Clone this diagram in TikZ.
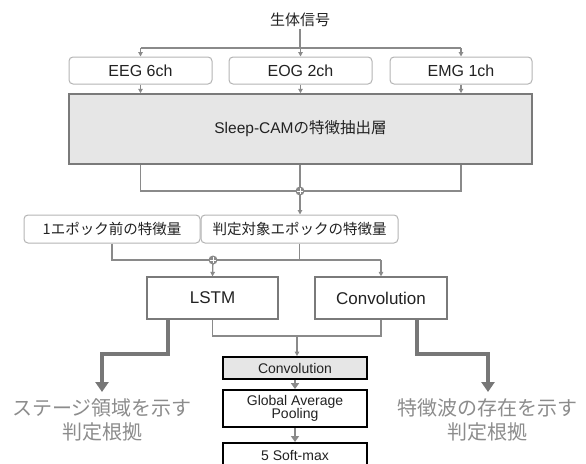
\documentclass[tikz,border=0pt]{standalone}
\usepackage{fontspec}
\setmainfont{Liberation Sans}
\newfontfamily\jp{Noto Sans CJK JP}
\usetikzlibrary{arrows.meta}
\definecolor{lin}{HTML}{8A8A8A}
\definecolor{lbord}{HTML}{B4B4B4}
\definecolor{bfill}{HTML}{E6E6E6}
\definecolor{midb}{HTML}{7A7A7A}
\definecolor{thk}{HTML}{777777}
\definecolor{labc}{HTML}{8C8C8C}
\definecolor{txt}{HTML}{222222}
\tikzset{
  conn/.style={draw=lin, line width=1.3pt},
  arr/.style={conn, -{Triangle[length=4.5pt,width=4.5pt]}},
  sigbox/.style={draw=lbord, line width=1pt, rounded corners=4pt, fill=white, text=txt,
    minimum height=27pt, inner sep=0pt, font=\fontsize{16}{19}\selectfont},
  featbox/.style={draw=lbord, line width=1pt, rounded corners=4pt, fill=white, text=txt,
    minimum height=28pt, inner sep=0pt, font=\jp\fontsize{14.5}{17}\selectfont},
  bigbox/.style={draw=midb, line width=1.5pt, fill=bfill, text=txt, inner sep=0pt,
    minimum width=463pt, minimum height=70pt, font=\fontsize{15.5}{18}\selectfont},
  netbox/.style={draw=midb, line width=1.2pt, fill=white, text=txt, inner sep=0pt,
    minimum width=131pt, minimum height=42pt, font=\fontsize{17}{20}\selectfont},
  headbox/.style={draw=black, line width=1.8pt, text=txt, inner sep=0pt,
    minimum width=144pt, font=\fontsize{14}{15}\selectfont, align=center},
  plusdot/.style={circle, fill=lin, draw=none, minimum size=9pt, inner sep=0pt},
  thickarr/.style={draw=thk, line width=3.3pt, -{Triangle[length=10pt,width=13pt]}},
  midarr/.style={draw=lin, line width=2.6pt, -{Triangle[length=6pt,width=8pt]}},
  reason/.style={text=labc, font=\jp\fontsize{20}{24}\selectfont, inner sep=0pt, align=center},
}
\begin{document}
\begin{tikzpicture}[x=1pt,y=-1pt]
\useasboundingbox (0,0) rectangle (586,463);
\clip (0,0) rectangle (586,463);
% title
\node[text=txt, font=\jp\fontsize{15}{18}\selectfont, inner sep=2pt] (title) at (300,20) {生体信号};
% signal boxes
\node[sigbox, minimum width=143pt] (eeg) at (140.5,70.5) {EEG 6ch};
\node[sigbox, minimum width=143pt] (eog) at (300.5,70.5) {EOG 2ch};
\node[sigbox, minimum width=142pt] (emg) at (461,70.5) {EMG 1ch};
% feature extractor
\node[bigbox] (big) at (300.5,129) {Sleep-CAM{\jp の特徴抽出層}};
% junction 1
\coordinate (bus1) at (300,48);
\coordinate (bus2) at (300,191);
% feature boxes
\node[featbox, minimum width=176pt] (feat1) at (112,229) {1エポック前の特徴量};
\node[featbox, minimum width=197pt] (feat2) at (299.5,229) {判定対象エポックの特徴量};
\coordinate (bus3) at (213,260);
% LSTM / Convolution
\node[netbox] (lstm) at (212.5,298) {LSTM};
\node[netbox, minimum width=132pt] (conv) at (381,298) {Convolution};
\coordinate (bus4) at (297,336);
% head
\node[headbox, fill=bfill, minimum height=22pt] (cconv) at (295,368) {Convolution};
\node[headbox, fill=white, minimum height=37pt] (gap) at (295,408.5) {Global Average\\[-2pt]Pooling};
\node[headbox, fill=white, minimum height=36pt, anchor=north] (soft) at (295,442) {};
\node[text=txt, font=\fontsize{14}{15}\selectfont, inner sep=0pt] (softlab) at (295,455) {5 Soft-max};
% reason labels
\node[reason] (lab1) at (102,420) {ステージ領域を示す\\判定根拠};
\node[reason] (lab2) at (487,420) {特徴波の存在を示す\\判定根拠};
\coordinate (ltip) at (102,392);
\coordinate (rtip) at (488,392);
\coordinate (lsplit) at (168,354);
\coordinate (rsplit) at (417,354);

% connectors top
\draw[conn] (title.south) -- (bus1);
\draw[conn] (eeg.north |- bus1) -- (emg.north |- bus1);
\draw[arr] (eeg.north |- bus1) -- (eeg.north);
\draw[arr] (eog.north |- bus1) -- (eog.north);
\draw[arr] (emg.north |- bus1) -- (emg.north);
\draw[arr] (eeg.south) -- (eeg.south |- big.north);
\draw[arr] (eog.south) -- (eog.south |- big.north);
\draw[arr] (emg.south) -- (emg.south |- big.north);
% merge after extractor
\draw[conn] (eeg.south |- big.south) |- (bus2) -| (emg.south |- big.south);
\draw[conn] (big.south -| bus2) -- (bus2);
\draw[arr] (bus2) -- (bus2 |- feat2.north);
\node[plusdot] (p1) at (bus2) {};
\draw[white, line width=0.8pt] ([xshift=-3pt]p1.center) -- ([xshift=3pt]p1.center);
\draw[white, line width=0.8pt] ([yshift=-3pt]p1.center) -- ([yshift=3pt]p1.center);
% merge of features
\draw[conn] (feat1.south) |- (bus3) -- (conv.north |- bus3);
\draw[conn] (feat2.south) -- (feat2.south |- bus3);
\draw[arr] (conv.north |- bus3) -- (conv.north);
\draw[arr] (bus3) -- (lstm.north);
\node[plusdot] (p2) at (bus3) {};
\draw[white, line width=0.8pt] ([xshift=-3pt]p2.center) -- ([xshift=3pt]p2.center);
\draw[white, line width=0.8pt] ([yshift=-3pt]p2.center) -- ([yshift=3pt]p2.center);
% merge to head
\draw[conn] (lstm.south) |- (bus4) -| (conv.south);
\draw[arr] (bus4) -- (bus4 |- cconv.north);
\draw[midarr] (cconv.south) -- (gap.north);
\draw[midarr] (gap.south) -- (soft.north);
% reason arrows
\draw[thickarr] (lstm.south -| lsplit) -- (lsplit) -| (ltip);
\draw[thickarr] (conv.south -| rsplit) -- (rsplit) -| (rtip);
\end{tikzpicture}
\end{document}
